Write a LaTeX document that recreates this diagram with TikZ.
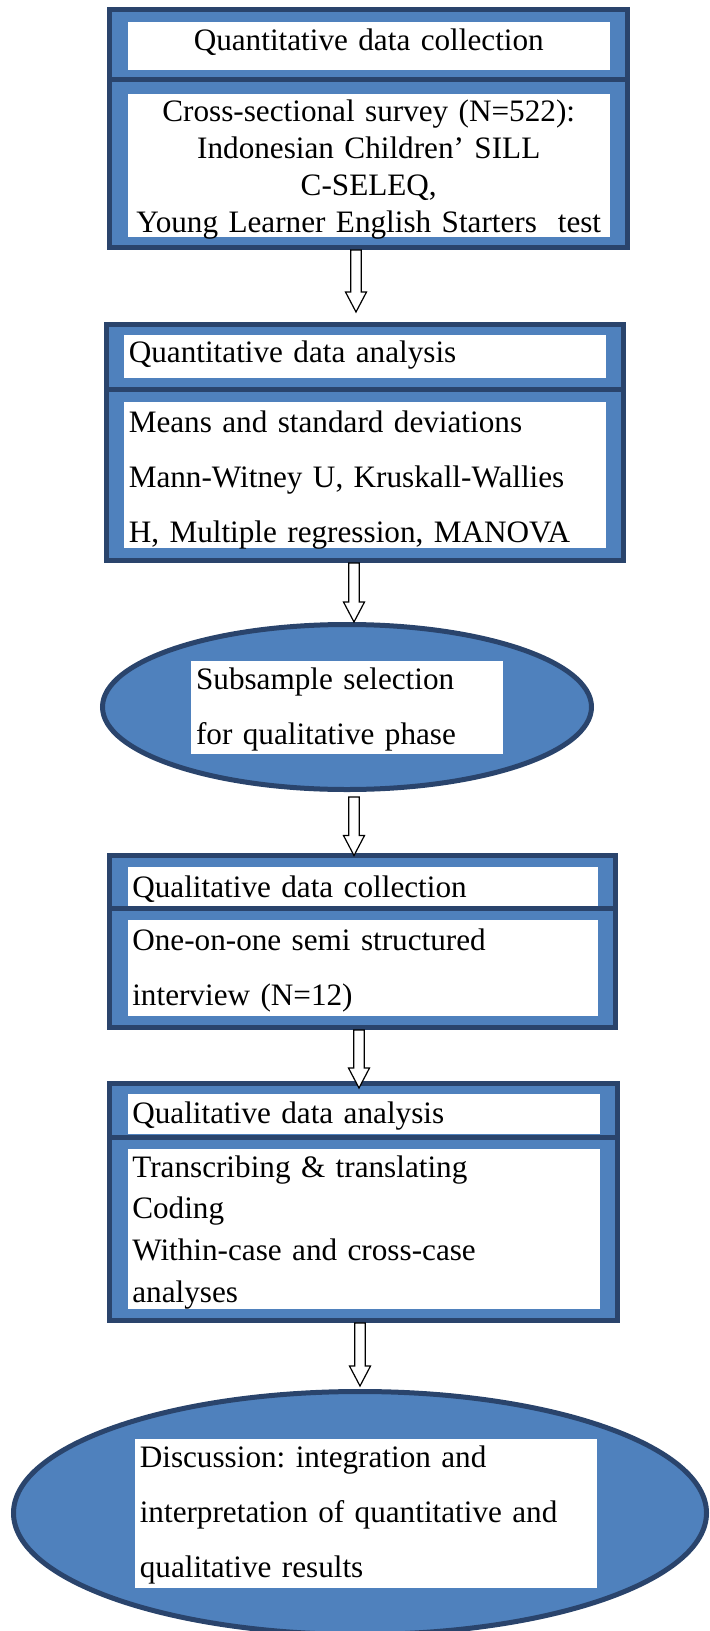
\documentclass[tikz,border=0pt]{standalone}
\usepackage{fontspec}
\setmainfont{Liberation Serif}
\usetikzlibrary{positioning,calc,shapes.geometric}

\definecolor{panelblue}{RGB}{79,129,189}
\definecolor{panelline}{RGB}{42,68,108}

\begin{document}
\frenchspacing
\begin{tikzpicture}[x=0.5pt,y=-0.5pt,
    panel/.style={rectangle,draw=panelline,fill=panelblue,line width=2.5pt,
                  inner sep=0pt,outer sep=0pt,minimum width=#1},
    oval/.style={ellipse,draw=panelline,fill=panelblue,line width=2.5pt,
                 inner sep=0pt,outer sep=0pt},
    card/.style={rectangle,fill=white,anchor=north west,inner ysep=0pt,
                 inner xsep=2.4pt,align=left,outer sep=0pt,
                 font=\fontsize{15.6pt}{27.5pt}\selectfont},
    hollow/.style={draw=black,fill=white,line width=0.6pt,
       to path={let \p1=(\tikztostart), \p2=(\tikztotarget), \p3=(#1,0) in
         (\x3-2.625pt,\y1) -- (\x3-2.625pt,\y2+10pt) -- (\x3-5.25pt,\y2+10pt)
         -- (\x3,\y2) -- (\x3+5.25pt,\y2+10pt) -- (\x3+2.625pt,\y2+10pt)
         -- (\x3+2.625pt,\y1) -- cycle}}]
  \useasboundingbox (0,0) rectangle (710,1631);
  % quantitative strand
  \node[panel=259pt,minimum height=35.25pt,anchor=north west] (qcolhead) at (109.5,9.5) {};
  \node[panel=259pt,minimum height=83.75pt,below=0pt of qcolhead] (qcolbody) {};
  \node[panel=258.5pt,minimum height=32.25pt,below=38.5pt of qcolbody,xshift=-1.75pt] (qanahead) {};
  \node[panel=258.5pt,minimum height=85.75pt,below=0pt of qanahead] (qanabody) {};
  \node[oval,minimum width=244.5pt,minimum height=82.5pt,below=32pt of qanabody,xshift=-9pt] (subsel) {};
  % qualitative strand
  \node[panel=253pt,minimum height=26.5pt,below=33pt of subsel,xshift=7.75pt] (qlcolhead) {};
  \node[panel=253pt,minimum height=59.5pt,below=0pt of qlcolhead] (qlcolbody) {};
  \node[panel=254pt,minimum height=26.75pt,below=28pt of qlcolbody,xshift=0.5pt] (qlanahead) {};
  \node[panel=254pt,minimum height=91.75pt,below=0pt of qlanahead] (qlanabody) {};
  \node[oval,minimum width=346.5pt,minimum height=121.5pt,below=35.5pt of qlanabody,xshift=-1.75pt] (disc) {};

  \node[card,align=center,inner xsep=0pt,text width=241.25pt,text height=14.5pt,text depth=9.5pt]
    (qcoltitle) at ([shift={(9pt,-6.25pt)}]qcolhead.north west) {Quantitative data collection};
  \node[card,align=center,inner xsep=0pt,text width=241.25pt,text height=14pt,text depth=57.5pt,
        font=\fontsize{15.6pt}{18.35pt}\selectfont]
    (qcoltext) at ([shift={(9pt,-7pt)}]qcolbody.north west)
    {Cross-sectional survey (N=522):\\Indonesian Children’ SILL\\C-SELEQ,\\Young Learner English Starters~ test};
  \node[card,text width=236.2pt,text height=14pt,text depth=7.5pt]
    (qanatitle) at ([shift={(8.75pt,-5.25pt)}]qanahead.north west) {Quantitative data analysis};
  \node[card,text width=236.2pt,text height=15pt,text depth=58pt]
    (qanatext) at ([shift={(8.75pt,-6.5pt)}]qanabody.north west)
    {Means and standard deviations\\Mann-Witney U, Kruskall-Wallies\\H, Multiple regression, MANOVA};
  \node[card,anchor=center,text width=150.95pt,text height=14.5pt,text depth=32pt]
    (subseltext) at (subsel.center) {Subsample selection\\for qualitative phase};
  \node[card,text width=230.45pt,text height=15pt,text depth=4.5pt]
    (qlcoltitle) at ([shift={(9pt,-5.75pt)}]qlcolhead.north west) {Qualitative data collection};
  \node[card,text width=230.45pt,text height=15pt,text depth=33pt]
    (qlcoltext) at ([shift={(9pt,-5.75pt)}]qlcolbody.north west)
    {One-on-one semi structured\\interview (N=12)};
  \node[card,text width=231.45pt,text height=14.8pt,text depth=5.2pt]
    (qlanatitle) at ([shift={(9pt,-5.25pt)}]qlanahead.north west) {Qualitative data analysis};
  \node[card,text width=231.45pt,text height=14pt,text depth=66pt,
        font=\fontsize{15.6pt}{20.85pt}\selectfont]
    (qlanatext) at ([shift={(9pt,-6pt)}]qlanabody.north west)
    {Transcribing \& translating\\Coding\\Within-case and cross-case\\analyses};
  \node[card,anchor=center,text width=226.2pt,text height=14.5pt,text depth=60pt]
    (disctext) at ([xshift=3pt]disc.center)
    {Discussion: integration and\\interpretation of quantitative and\\qualitative results};

  \path ([yshift=-1.25pt]qcolbody.south) edge[hollow=356] ([yshift=6.25pt]qanahead.north)
        ([yshift=-1.25pt]qanabody.south) edge[hollow=354] ([yshift=1.25pt]subsel.north)
        ([yshift=-3.75pt]subsel.south) edge[hollow=354] (qlcolhead.north)
        ([yshift=-1.25pt]qlcolbody.south) edge[hollow=359] ([yshift=-2.25pt]qlanahead.north)
        ([yshift=-1.25pt]qlanabody.south) edge[hollow=360] ([yshift=2.75pt]disc.north);
\end{tikzpicture}
\end{document}
